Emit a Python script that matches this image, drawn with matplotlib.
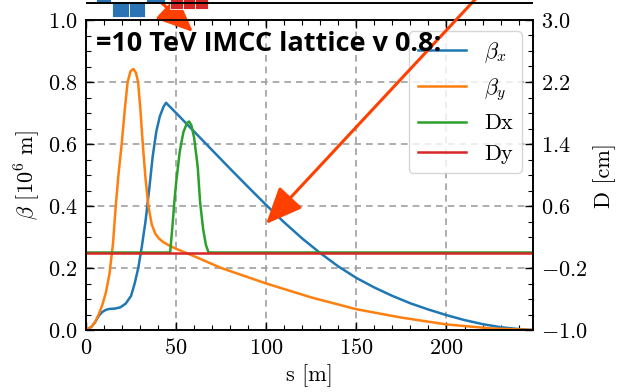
import matplotlib
matplotlib.use("Agg")
import matplotlib.pyplot as plt
from matplotlib.ticker import AutoMinorLocator, MultipleLocator

plt.rcParams["font.family"] = "serif"
plt.rcParams["font.serif"] = ["cmr10"]
plt.rcParams["mathtext.fontset"] = "cm"
plt.rcParams["axes.formatter.use_mathtext"] = True

# beta functions [10^6 m] vs s [m]
s_bx = [0, 3, 5, 7, 9, 11, 13, 16, 19, 22, 25, 27, 29, 31, 33, 35, 37, 39, 41, 43,
        44.4, 50, 60, 70, 80, 90, 100, 110, 120, 130, 140, 150, 160, 170, 180, 190,
        200, 210, 220, 230, 240, 248]
beta_x = [0, 0.01, 0.025, 0.045, 0.058, 0.065, 0.068, 0.069, 0.073, 0.085, 0.11, 0.15,
          0.2, 0.27, 0.35, 0.45, 0.56, 0.64, 0.69, 0.72,
          0.733, 0.70, 0.64, 0.58, 0.52, 0.461, 0.403, 0.347, 0.295, 0.248, 0.205,
          0.168, 0.137, 0.11, 0.086, 0.066, 0.048, 0.032, 0.019, 0.009, 0.003, 0]

s_by = [0, 3, 5, 7, 9, 11, 13, 15, 16.5, 18, 19.8, 21.5, 23.1, 24.7, 26.3, 27.7, 28.9,
        30.2, 31.5, 33, 34.6, 36.5, 38.5, 40.5, 43, 45.7, 50, 60, 75, 100, 125, 150,
        175, 200, 225, 248]
beta_y = [0, 0.01, 0.025, 0.05, 0.08, 0.12, 0.18, 0.28, 0.4, 0.5, 0.6, 0.71, 0.8, 0.835,
          0.842, 0.83, 0.8, 0.71, 0.6, 0.49, 0.4, 0.34, 0.31, 0.295, 0.283, 0.274, 0.262,
          0.238, 0.2, 0.15, 0.105, 0.067, 0.04, 0.018, 0.005, 0]

# dispersion [cm]
s_dx = [0, 46.7, 48, 49, 50, 52, 54, 56, 57.2, 58.5, 60, 62, 63.3, 65, 66.5, 68, 248]
disp_x = [0, 0, 0.35, 0.65, 0.9, 1.3, 1.55, 1.67, 1.69, 1.64, 1.48, 1.1, 0.65, 0.3, 0.1, 0, 0]
s_dy = [0, 248]
disp_y = [0, 0]

# magnet layout (start, end) in s
qf_start = [5.7, 33.5]
qf_end = [14.0, 43.7]
qd_start = [14.4, 23.7]
qd_end = [23.7, 32.6]
dip_start = [46.7, 53.7, 60.7]
dip_end = [53.7, 60.7, 67.8]

W, H = 621, 392
fig = plt.figure(figsize=(W / 100, H / 100), dpi=100)
ax = fig.add_axes([86 / W, 62 / H, 447 / W, 310 / H])
ax2 = ax.twinx()

l1, = ax.plot(s_bx, beta_x, color="C0", lw=1.8, label=r"$\beta_x$")
l2, = ax.plot(s_by, beta_y, color="C1", lw=1.8, label=r"$\beta_y$")
l3, = ax2.plot(s_dx, disp_x, color="C2", lw=1.8, label="Dx")
l4, = ax2.plot(s_dy, disp_y, color="C3", lw=1.8, label="Dy")

ax.set_xlim(0, 248)
ax.set_ylim(0, 1.0)
ax2.set_ylim(-1, 3)
ax.xaxis.set_major_locator(MultipleLocator(50))
ax.xaxis.set_minor_locator(MultipleLocator(10))
ax.yaxis.set_major_locator(MultipleLocator(0.2))
ax.yaxis.set_minor_locator(MultipleLocator(0.05))
ax2.set_yticks([-1.0, -0.2, 0.6, 1.4, 2.2, 3.0])
ax2.yaxis.set_minor_locator(AutoMinorLocator(4))

ax.grid(True, ls="--", color="#a0a0a0", lw=1.2, dashes=(4, 3))
ax.tick_params(which="both", direction="in", top=True, labelsize=16, pad=6)
ax.tick_params(which="major", length=6, width=1)
ax.tick_params(which="minor", length=3.5, width=0.8)
ax2.tick_params(which="both", direction="in", labelsize=16, pad=6)
ax2.tick_params(which="major", length=6, width=1)
ax2.tick_params(which="minor", length=3.5, width=0.8)
for a in (ax, ax2):
    for sp in a.spines.values():
        sp.set_linewidth(1.2)

ax.set_xlabel("s [m]", fontsize=16)
ax.set_ylabel(r"$\beta$ [$10^6$ m]", fontsize=16)
ax2.set_ylabel("D [cm]", fontsize=16)

ax2.legend([l1, l2, l3, l4], [l.get_label() for l in (l1, l2, l3, l4)],
           loc="upper right", fontsize=16, handlelength=2.2)

# magnet layout strip above the axes
lay = fig.add_axes([86 / W, 372 / H, 447 / W, 40 / H])
lay.set_xlim(0, 248)
lay.set_ylim(-1, 1)
lay.axis("off")
lay.axhline(-0.135, color="black", lw=1.4)
lay.bar(qf_start, 0.9, width=[e - b for b, e in zip(qf_start, qf_end)], bottom=-0.135,
        align="edge", color="#2a74b6", edgecolor="white", lw=0.6)
lay.bar(qd_start, 0.7, width=[e - b for b, e in zip(qd_start, qd_end)], bottom=-0.865,
        align="edge", color="#2a74b6", edgecolor="white", lw=0.6)
lay.bar(dip_start, 0.66, width=[e - b for b, e in zip(dip_start, dip_end)], bottom=-0.465,
        align="edge", color="#d62728", edgecolor="white", lw=0.6)

fig.text(96 / W, (H - 51) / H, "=10 TeV IMCC lattice v 0.8:", family="Open Sans",
         fontweight="bold", fontsize=19.5, va="baseline", ha="left", zorder=10)

arrow_kw = dict(arrowstyle="-|>,head_length=1.5,head_width=0.65", color="#ff4000",
                lw=2.2, mutation_scale=15, shrinkA=0, shrinkB=0)
ax.annotate("", xy=(193, H - 32), xytext=(150, H + 8), xycoords="figure pixels",
            textcoords="figure pixels", arrowprops=arrow_kw, annotation_clip=False, zorder=20)
ax2.annotate("", xy=(266, H - 224), xytext=(482, H + 8), xycoords="figure pixels",
             textcoords="figure pixels", arrowprops=arrow_kw, annotation_clip=False, zorder=20)

fig.savefig("out.png", dpi=100)
